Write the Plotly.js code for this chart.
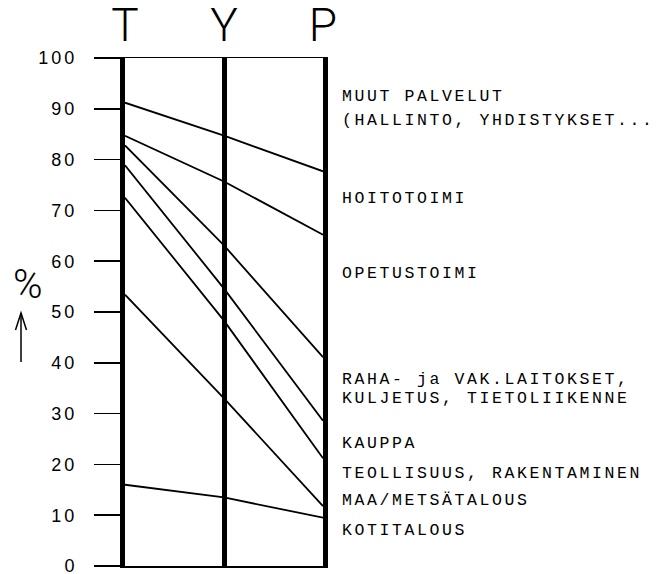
<!DOCTYPE html>
<html>
<head>
<meta charset="utf-8">
<script src="https://cdn.plot.ly/plotly-3.0.1.min.js"></script>
<style>
  html, body { margin: 0; padding: 0; background: #fff; }
  #chart { width: 661px; height: 574px; }
  .annotation-text { letter-spacing: 2.6px; }
  .ytick text { letter-spacing: 3px; }
</style>
</head>
<body>
<div id="chart"></div>
<script>
// ---- data (cumulative shares, %) ----
const categories = ['T', 'Y', 'P'];
const cumKotitalous   = [16.0, 13.5, 9.5];
const cumMaaMetsa     = [53.4, 33.0, 11.8];
const cumTeollisuus   = [72.5, 48.3, 21.2];
const cumKauppa       = [78.9, 54.6, 28.6];
const cumRahaKuljetus = [82.8, 63.1, 41.1];
const cumOpetus       = [84.7, 75.7, 65.2];
const cumHoito        = [91.2, 84.7, 77.7];
const yTicks = [0, 10, 20, 30, 40, 50, 60, 70, 80, 90, 100];
const bandLabels = [
  'MUUT PALVELUT', '(HALLINTO, YHDISTYKSET...',
  'HOITOTOIMI', 'OPETUSTOIMI',
  'RAHA- ja VAK.LAITOKSET,', 'KULJETUS, TIETOLIIKENNE',
  'KAUPPA', 'TEOLLISUUS, RAKENTAMINEN', 'MAA/METSÄTALOUS', 'KOTITALOUS'
];

// ---- layout helpers (pixel -> paper) ----
const X0 = 125, X1 = 323, Y0 = 58, Y1 = 566;
const px = x => (x - X0) / (X1 - X0);
const py = y => (Y1 - y) / (Y1 - Y0);
const labelPixelY = [97, 120, 199, 273, 379, 398.5, 443, 473, 500, 530];

const series = [cumKotitalous, cumMaaMetsa, cumTeollisuus, cumKauppa,
                cumRahaKuljetus, cumOpetus, cumHoito];
const traces = series.map(s => ({
  type: 'scatter', mode: 'lines', x: categories, y: s,
  line: { color: '#000', width: 1.8 }, hoverinfo: 'skip', showlegend: false
}));

const annotations = bandLabels.map((t, i) => ({
  text: t, xref: 'paper', yref: 'paper', x: px(341), y: py(labelPixelY[i]),
  xanchor: 'left', yanchor: 'middle', showarrow: false, borderpad: 0,
  font: { family: 'Liberation Mono, DejaVu Sans Mono, monospace', size: 16.5, color: '#000' }
}));
annotations.push({
  text: '%', xref: 'paper', yref: 'paper', x: px(29), y: py(284),
  xanchor: 'center', yanchor: 'middle', showarrow: false,
  font: { family: 'Roboto, Liberation Sans, Arial, sans-serif', size: 40, weight: 300, color: '#000' }
});

const layout = {
  width: 661, height: 574,
  margin: { l: X0, r: 661 - X1, t: Y0, b: 574 - Y1, pad: 0 },
  paper_bgcolor: '#fff', plot_bgcolor: '#fff',
  showlegend: false,
  xaxis: {
    type: 'category', side: 'top', range: [0, 2],
    showline: true, mirror: true, linewidth: 1.5, linecolor: '#000',
    showgrid: true, gridwidth: 5, gridcolor: '#000',
    ticks: '', ticklabelstandoff: -3, ticklabeloverflow: 'allow',
    tickfont: { family: 'Roboto, Liberation Sans, Arial, sans-serif', size: 46, weight: 300, color: '#000' },
    zeroline: false, fixedrange: true
  },
  yaxis: {
    range: [0, 100], tickvals: yTicks,
    showline: true, mirror: true, linewidth: 5, linecolor: '#000',
    showgrid: false, zeroline: false,
    ticks: 'outside', ticklen: 26, tickwidth: 1.5, tickcolor: '#000',
    ticklabelstandoff: 13, ticklabeloverflow: 'allow',
    tickfont: { family: 'Liberation Sans, Arial, sans-serif', size: 18, color: '#000' },
    fixedrange: true
  },
  shapes: [
    { type: 'path', xref: 'paper', yref: 'paper',
      path: `M ${px(21)},${py(362)} L ${px(21)},${py(313)}`,
      line: { color: '#000', width: 1.5 } },
    { type: 'path', xref: 'paper', yref: 'paper',
      path: `M ${px(15.5)},${py(330)} L ${px(21)},${py(313)} L ${px(26.5)},${py(330)}`,
      line: { color: '#000', width: 1.5 } }
  ],
  annotations: annotations
};

Plotly.newPlot('chart', traces, layout, { displayModeBar: false, staticPlot: true });
</script>
</body>
</html>
